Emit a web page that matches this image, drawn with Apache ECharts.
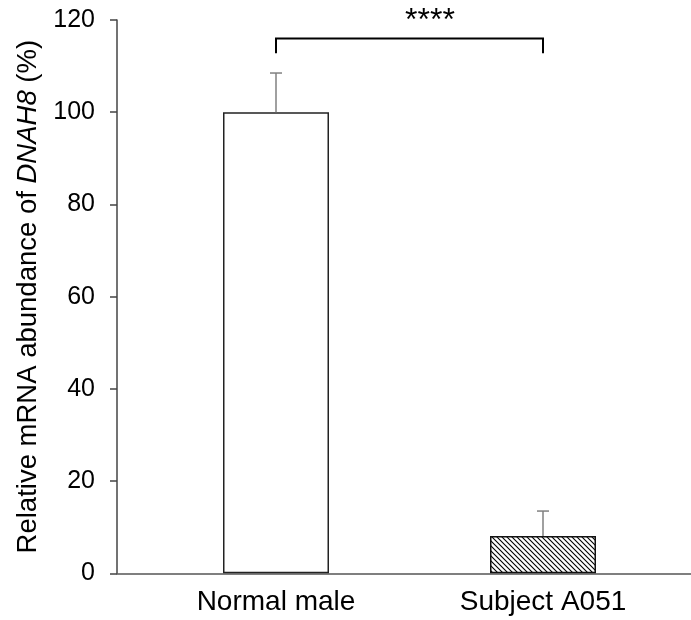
<!DOCTYPE html>
<html><head><meta charset="utf-8">
<script src="https://cdn.jsdelivr.net/npm/echarts@6/dist/echarts.min.js"></script>
<style>html,body{margin:0;padding:0;background:#fff}#c{width:691px;height:620px}</style>
</head><body><div id="c"></div>
<script>
var categories = ['Normal male', 'Subject A051'];
var means = [100, 8.1];
var errors = [8.5, 5.4];
var yTicks = [0, 20, 40, 60, 80, 100, 120];
var bracketTop = 116.0;
var bracketBottom = 112.8;
var sigLabel = '****';

var FONT = '"Liberation Sans", Arial, sans-serif';

function hatch() {
  var s = 5, c = document.createElement('canvas');
  c.width = s; c.height = s;
  var g = c.getContext('2d');
  g.fillStyle = '#fff'; g.fillRect(0, 0, s, s);
  g.strokeStyle = '#000'; g.lineWidth = 1.1;
  g.beginPath();
  g.moveTo(-1, -1); g.lineTo(s + 1, s + 1);
  g.moveTo(-1, s - 1); g.lineTo(1, s + 1);
  g.moveTo(s - 1, -1); g.lineTo(s + 1, 1);
  g.stroke();
  return c;
}

var chart = echarts.init(document.getElementById('c'), null, {renderer: 'canvas'});
var gridTop = 20, gridBottom = 46.7;
chart.setOption({
  animation: false,
  grid: [
    {left: 142.5, right: 14.5, top: gridTop, bottom: gridBottom},
    {left: 117, right: 0, top: gridTop, bottom: gridBottom}
  ],
  xAxis: [
    {gridIndex: 0, type: 'category', data: categories,
     axisLine: {show: false}, axisTick: {show: false},
     axisLabel: {color: '#000', fontFamily: FONT, fontSize: 28, margin: 15}},
    {gridIndex: 1, type: 'value', min: 0, max: 1,
     axisLine: {show: true, lineStyle: {color: '#555', width: 1.5}},
     axisTick: {show: false}, axisLabel: {show: false}, splitLine: {show: false}}
  ],
  yAxis: [
    {gridIndex: 0, type: 'value', min: yTicks[0], max: yTicks[yTicks.length - 1], interval: 20,
     show: false, splitLine: {show: false}},
    {gridIndex: 1, type: 'value', min: yTicks[0], max: yTicks[yTicks.length - 1], interval: yTicks[1] - yTicks[0],
     axisLine: {show: true, lineStyle: {color: '#444', width: 1.5}},
     axisTick: {show: true, inside: false, length: 7, lineStyle: {color: '#444', width: 1.5}},
     axisLabel: {color: '#000', fontFamily: FONT, fontSize: 25, margin: 22},
     splitLine: {show: false},
     name: '{a|Relative mRNA abundance of }{b|DNAH8}{a| (%)}',
     nameLocation: 'middle', nameGap: 75,
     nameTextStyle: {
       rich: {
         a: {fontFamily: FONT, fontSize: 27.5, color: '#000'},
         b: {fontFamily: FONT, fontSize: 27.5, color: '#000', fontStyle: 'italic'}
       }
     }}
  ],
  series: [
    {type: 'bar', xAxisIndex: 0, yAxisIndex: 0, barWidth: 106,
     data: means.map(function (v, i) {
       return {value: v, itemStyle: i === 0
         ? {color: '#fff', borderColor: '#222', borderWidth: 1.5}
         : {color: {image: hatch(), repeat: 'repeat'}, borderColor: '#111', borderWidth: 1.5}};
     }),
     z: 2},
    {type: 'custom', xAxisIndex: 0, yAxisIndex: 0, z: 3,
     data: means.map(function (v, i) { return [i, v, v + errors[i]]; }),
     renderItem: function (params, api) {
       var p0 = api.coord([api.value(0), api.value(1)]);
       var p1 = api.coord([api.value(0), api.value(2)]);
       var hw = 6;
       return {type: 'group', children: [
         {type: 'line', shape: {x1: p0[0], y1: p0[1], x2: p1[0], y2: p1[1]}, style: {stroke: '#808080', lineWidth: 1.5}},
         {type: 'line', shape: {x1: p1[0] - hw, y1: p1[1], x2: p1[0] + hw, y2: p1[1]}, style: {stroke: '#808080', lineWidth: 1.5}}
       ]};
     }},
    {type: 'custom', xAxisIndex: 0, yAxisIndex: 0, z: 4, clip: false,
     data: [[0, 1, bracketTop, bracketBottom]],
     renderItem: function (params, api) {
       var a = api.coord([api.value(0), api.value(2)]);
       var b = api.coord([api.value(1), api.value(2)]);
       var yb = api.coord([api.value(0), api.value(3)])[1];
       return {type: 'group', children: [
         {type: 'polyline', shape: {points: [[a[0], yb], [a[0], a[1]], [b[0], b[1]], [b[0], yb]]},
          style: {stroke: '#000', lineWidth: 2, fill: null}},
         {type: 'text', style: {text: sigLabel, x: 430, y: a[1] - 1, align: 'center', verticalAlign: 'bottom',
           fontFamily: FONT, fontSize: 32, fill: '#000'}}
       ]};
     }}
  ]
});
</script></body></html>
